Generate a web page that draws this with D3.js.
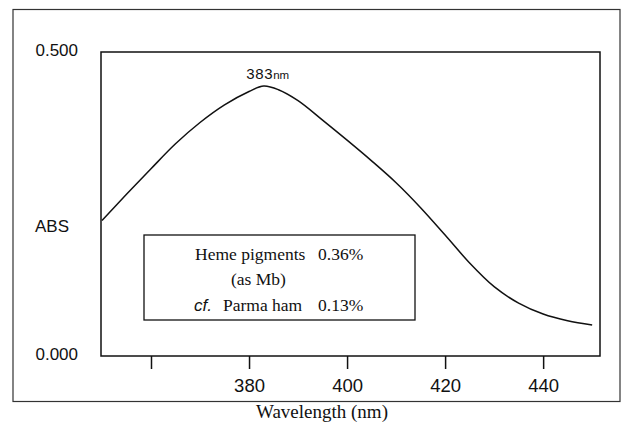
<!DOCTYPE html>
<html>
<head>
  <meta charset="utf-8">
  <title>ABS spectrum</title>
  <script src="https://cdn.jsdelivr.net/npm/d3@7"></script>
  <style>
    body { margin: 0; background: #fff; }
    .sans { font-family: "Liberation Sans", Arial, sans-serif; }
    .serif { font-family: "Liberation Serif", "Times New Roman", serif; }
  </style>
</head>
<body>
  <div id="chart"></div>
  <script>
    // spectrum
    const wavelengths = [350, 355, 360, 365, 370, 375, 380, 383, 386, 390, 395, 400, 405, 410, 415, 420, 425, 430, 435, 440, 445, 450]
    const absValues = [0.223, 0.266, 0.308, 0.349, 0.384, 0.413, 0.435, 0.444, 0.438, 0.420, 0.388, 0.355, 0.321, 0.285, 0.244, 0.199, 0.153, 0.114, 0.087, 0.069, 0.058, 0.051]
    const xTicks = [360, 380, 400, 420, 440]
    const xTickLabels = ['', '380', '400', '420', '440']
    const yTicks = [0, 0.5]
    const yTickLabels = ['0.000', '0.500']
    const peakWavelength = 383
    const legendNames = ['Heme pigments', '(as Mb)', 'Parma ham']
    const legendValues = ['0.36%', '', '0.13%']

    const width = 622
    const height = 425
    const plot = { left: 101, top: 52, right: 600, bottom: 356 }

    const x = d3.scaleLinear().domain([349.8, 451.6]).range([plot.left, plot.right])
    const y = d3.scaleLinear().domain([0, 0.5]).range([plot.bottom, plot.top])

    const svg = d3.select('#chart').append('svg')
      .attr('width', width)
      .attr('height', height)

    // outer frame
    svg.append('rect')
      .attr('x', 13).attr('y', 9.5)
      .attr('width', 607).attr('height', 392)
      .attr('fill', 'none').attr('stroke', '#333').attr('stroke-width', 1.2)

    // plot frame
    svg.append('rect')
      .attr('x', plot.left).attr('y', plot.top)
      .attr('width', plot.right - plot.left).attr('height', plot.bottom - plot.top)
      .attr('fill', 'none').attr('stroke', '#111').attr('stroke-width', 1.5)

    // x axis, ticks point outward
    const xAxis = d3.axisBottom(x)
      .tickValues(xTicks)
      .tickSize(13)
      .tickPadding(10)
      .tickFormat((d, i) => xTickLabels[i])
    const gx = svg.append('g')
      .attr('transform', `translate(0,${plot.bottom})`)
      .call(xAxis)
    gx.select('.domain').remove()
    gx.selectAll('line').attr('stroke', '#111').attr('stroke-width', 1.5)
    gx.selectAll('text').attr('class', 'sans').attr('font-size', 18.5).attr('fill', '#111')

    // y axis labels only
    const yAxis = d3.axisLeft(y)
      .tickValues(yTicks)
      .tickSize(0)
      .tickPadding(23)
      .tickFormat((d, i) => yTickLabels[i])
    const gy = svg.append('g')
      .attr('transform', `translate(${plot.left},-2)`)
      .call(yAxis)
    gy.select('.domain').remove()
    gy.selectAll('text').attr('class', 'sans').attr('font-size', 17).attr('fill', '#111')

    svg.append('text')
      .attr('class', 'sans')
      .attr('x', 35).attr('y', 232)
      .attr('font-size', 17).attr('fill', '#111')
      .text('ABS')

    svg.append('text')
      .attr('class', 'serif')
      .attr('x', 322).attr('y', 418)
      .attr('text-anchor', 'middle')
      .attr('font-size', 19).attr('fill', '#111')
      .text('Wavelength (nm)')

    // spectrum
    const line = d3.line()
      .x((d, i) => x(wavelengths[i]))
      .y(d => y(d))
      .curve(d3.curveCatmullRom.alpha(0.5))

    svg.append('path')
      .datum(absValues)
      .attr('d', line)
      .attr('fill', 'none')
      .attr('stroke', '#111')
      .attr('stroke-width', 1.5)

    // peak label
    const peakIdx = wavelengths.indexOf(peakWavelength)
    const peak = svg.append('text')
      .attr('class', 'sans')
      .attr('x', x(peakWavelength) + 4)
      .attr('y', y(absValues[peakIdx]) - 7)
      .attr('text-anchor', 'middle')
      .attr('fill', '#111')
    peak.append('tspan').attr('font-size', 15).attr('letter-spacing', 0.6).text(peakWavelength)
    peak.append('tspan').attr('font-size', 11.5).text('nm')

    // legend box
    svg.append('rect')
      .attr('x', 144).attr('y', 235)
      .attr('width', 271).attr('height', 85)
      .attr('fill', '#fff').attr('stroke', '#111').attr('stroke-width', 1.3)

    const rows = [
      { x: 195, y: 260 },
      { x: 231, y: 285 },
      { x: 223, y: 311 }
    ]
    legendNames.forEach((name, i) => {
      svg.append('text')
        .attr('class', 'serif')
        .attr('x', rows[i].x).attr('y', rows[i].y)
        .attr('font-size', 17.5).attr('fill', '#111')
        .text(name)
      if (legendValues[i]) {
        svg.append('text')
          .attr('class', 'serif')
          .attr('x', 318).attr('y', rows[i].y)
          .attr('font-size', 17.5).attr('fill', '#111')
          .text(legendValues[i])
      }
    })
    svg.append('text')
      .attr('class', 'sans')
      .attr('x', 194).attr('y', 311)
      .attr('font-size', 17).attr('font-style', 'italic').attr('fill', '#111')
      .text('cf.')
  </script>
</body>
</html>
